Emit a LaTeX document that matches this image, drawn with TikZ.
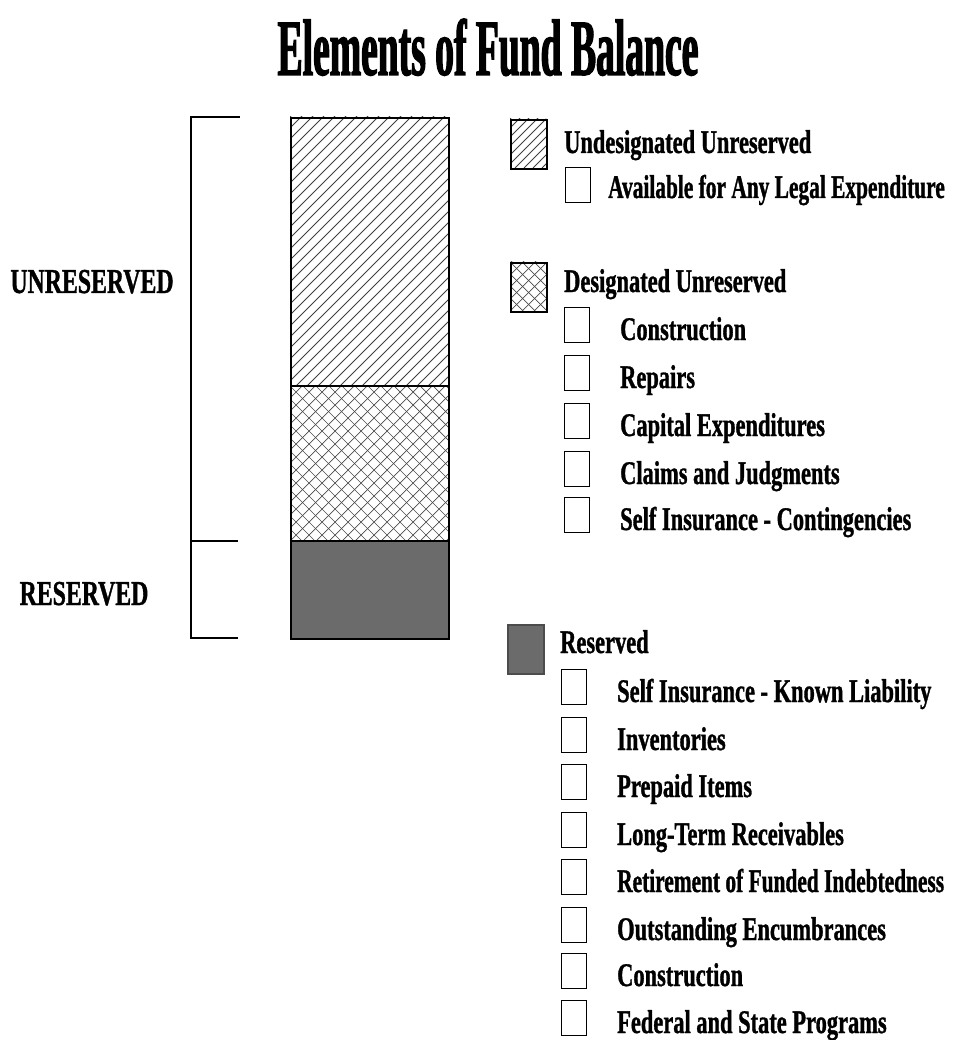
\documentclass[tikz,border=0pt]{standalone}
\usepackage{fontspec}
\newfontfamily\cf[FakeStretch=0.68,FakeBold=1]{Liberation Serif}
\newfontfamily\cfn[FakeStretch=0.648,FakeBold=1]{Liberation Serif}
\newfontfamily\tf[FakeStretch=0.47,FakeBold=1.5]{Liberation Serif}
\begin{document}
\begin{tikzpicture}[x=1pt,y=-1pt,
  lbl/.style={font=\cf\bfseries\fontsize{33}{36}\selectfont, anchor=base west, inner sep=0pt},
  lbln/.style={font=\cfn\bfseries\fontsize{33}{36}\selectfont, anchor=base west, inner sep=0pt},
  side/.style={font=\cf\bfseries\fontsize{35}{38}\selectfont, anchor=base, inner sep=0pt},
  chk/.style={draw, line width=1.4pt, minimum width=25pt, minimum height=35pt, inner sep=0pt, anchor=center},
  swatch/.style={draw, line width=2pt, minimum width=36pt, minimum height=49pt, inner sep=0pt, anchor=north west},
  hl/.style={line width=0.9pt, black!75},
  xl/.style={line width=0.7pt, black!70},
  frame/.style={line width=1.8pt}]
\useasboundingbox (0,0) rectangle (956,1040);
\fill[white] (0,0) rectangle (956,1040);

% title
\node[font=\tf\bfseries\fontsize{80}{90}\selectfont, anchor=base, inner sep=0pt] (title) at (488,75) {Elements of Fund Balance};

% bar: hatched part
\begin{scope}
  \clip (290,117) rectangle (448,386);
  \foreach \k in {0,...,40} \draw[hl] (21+\k*11,386) -- ++(290,-290);
\end{scope}
% crosshatched part
\begin{scope}
  \clip (290,386) rectangle (448,541);
  \foreach \k in {-13,...,13} {
    \draw[xl] (290+\k*13,541) -- ++(170,-170);
    \draw[xl] (290+\k*13,386) -- ++(170,170);
  }
\end{scope}
% dark part
\fill[black!58] (290,541) rectangle (448,638);
\node[frame, draw, minimum width=158pt, minimum height=521pt, inner sep=0pt, anchor=north west] (bar) at (290,117) {};
\draw[frame] (290,386) -- (448,386);
\draw[frame] (290,541) -- (448,541);

% brackets
\coordinate (bt) at (240,117);
\coordinate (bm) at (238,541);
\coordinate (bb) at (238,638);
\draw[frame] (bt) -- (191,117) -- (191,638) -- (bb);
\draw[frame] (191,541) -- (bm);
\node[side] (unres) at (92,293) {UNRESERVED};
\node[side] (res) at (84,605) {RESERVED};

% legend: undesignated
\node[swatch] (sw1) at (510,119) {};
\begin{scope}
  \clip (510,119) rectangle (546,168);
  \foreach \k in {0,...,12} \draw[hl] (461+\k*9,168) -- ++(60,-60);
\end{scope}
\node[swatch] at (510,119) {};
\node[lbl] (h1) at (564,153) {Undesignated Unreserved};
\node[chk] (u1b) at (578,185) {};
\node[lbln] (u1) at (608,198) {Available for Any Legal Expenditure};

% legend: designated
\node[swatch] (sw2) at (510,262) {};
\begin{scope}
  \clip (510,262) rectangle (546,311);
  \foreach \k in {-5,...,5} {
    \draw[xl] (510+\k*12,311) -- ++(60,-60);
    \draw[xl] (510+\k*12,262) -- ++(60,60);
  }
\end{scope}
\node[swatch] at (510,262) {};
\node[lbl] (h2) at (564,292) {Designated Unreserved};
\foreach \yy/\tx [count=\i] in {325/Construction, 373/Repairs, 421/Capital Expenditures, 469/Claims and Judgments, 515/Self Insurance - Contingencies} {
  \node[chk] (d\i b) at (577,\yy) {};
  \node[lbl] (d\i) at (620,\yy+15) {\tx};
}

% legend: reserved
\node[swatch, fill=black!58, draw=black!70] (sw3) at (507,624) {};
\node[lbl] (h3) at (560,653) {Reserved};
\foreach \yy/\tx/\st [count=\i] in {687/Self Insurance - Known Liability/lbl, 735/Inventories/lbl, 782/Prepaid Items/lbl, 830/Long-Term Receivables/lbl, 877/Retirement of Funded Indebtedness/lbln, 925/Outstanding Encumbrances/lbl, 971/Construction/lbl, 1018/Federal and State Programs/lbl} {
  \node[chk] (r\i b) at (574,\yy) {};
  \node[\st] (r\i) at (617,\yy+15) {\tx};
}
\end{tikzpicture}
\end{document}
